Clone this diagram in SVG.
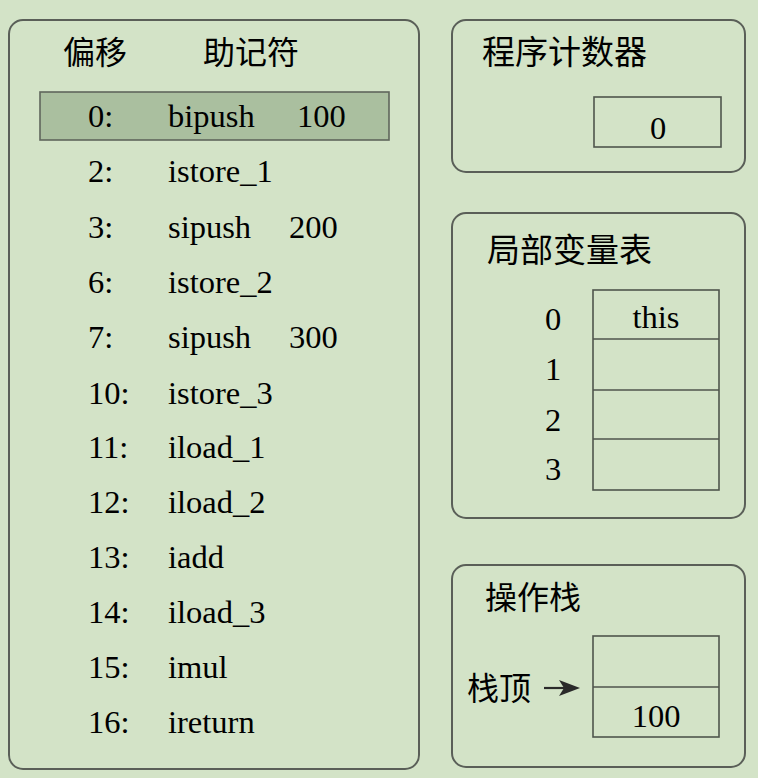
<svg xmlns="http://www.w3.org/2000/svg" width="758" height="778" viewBox="0 0 758 778">
<style>
.panel{fill:#d3e3c7;stroke:#5a5f58;stroke-width:2}
.cell{fill:none;stroke:#4f554d;stroke-width:1.6}
</style>
<rect width="758" height="778" fill="#d3e3c7"/>

<g id="code">
<rect class="panel" x="9" y="20" width="410" height="749" rx="14"/>
<text x="63" y="64" font-family="Liberation Serif, Noto Sans CJK SC, serif" font-size="32">偏移</text>
<text x="203" y="64" font-family="Liberation Serif, Noto Sans CJK SC, serif" font-size="32">助记符</text>
<rect x="40" y="92" width="349" height="48" fill="#aabf9f" stroke="#5f665c" stroke-width="1.6"/>
<text x="88" y="127" font-family="Liberation Serif, serif" font-size="32.5">0:</text><text x="168" y="127" font-family="Liberation Serif, serif" font-size="32.5">bipush</text><text x="297" y="127" font-family="Liberation Serif, serif" font-size="32.5">100</text>
<text x="88" y="182" font-family="Liberation Serif, serif" font-size="32.5">2:</text><text x="168" y="182" font-family="Liberation Serif, serif" font-size="32.5">istore_1</text>
<text x="88" y="238" font-family="Liberation Serif, serif" font-size="32.5">3:</text><text x="168" y="238" font-family="Liberation Serif, serif" font-size="32.5">sipush</text><text x="289" y="238" font-family="Liberation Serif, serif" font-size="32.5">200</text>
<text x="88" y="293" font-family="Liberation Serif, serif" font-size="32.5">6:</text><text x="168" y="293" font-family="Liberation Serif, serif" font-size="32.5">istore_2</text>
<text x="88" y="348" font-family="Liberation Serif, serif" font-size="32.5">7:</text><text x="168" y="348" font-family="Liberation Serif, serif" font-size="32.5">sipush</text><text x="289" y="348" font-family="Liberation Serif, serif" font-size="32.5">300</text>
<text x="88" y="404" font-family="Liberation Serif, serif" font-size="32.5">10:</text><text x="168" y="404" font-family="Liberation Serif, serif" font-size="32.5">istore_3</text>
<text x="88" y="458" font-family="Liberation Serif, serif" font-size="32.5">11:</text><text x="168" y="458" font-family="Liberation Serif, serif" font-size="32.5">iload_1</text>
<text x="88" y="513" font-family="Liberation Serif, serif" font-size="32.5">12:</text><text x="168" y="513" font-family="Liberation Serif, serif" font-size="32.5">iload_2</text>
<text x="88" y="568" font-family="Liberation Serif, serif" font-size="32.5">13:</text><text x="168" y="568" font-family="Liberation Serif, serif" font-size="32.5">iadd</text>
<text x="88" y="623" font-family="Liberation Serif, serif" font-size="32.5">14:</text><text x="168" y="623" font-family="Liberation Serif, serif" font-size="32.5">iload_3</text>
<text x="88" y="678" font-family="Liberation Serif, serif" font-size="32.5">15:</text><text x="168" y="678" font-family="Liberation Serif, serif" font-size="32.5">imul</text>
<text x="88" y="733" font-family="Liberation Serif, serif" font-size="32.5">16:</text><text x="168" y="733" font-family="Liberation Serif, serif" font-size="32.5">ireturn</text>
</g>

<g id="pc">
<rect class="panel" x="452" y="20" width="293" height="152" rx="14"/>
<text x="482" y="64" font-family="Liberation Serif, Noto Sans CJK SC, serif" font-size="33">程序计数器</text>
<rect class="cell" x="594" y="97" width="127" height="50"/>
<text x="658" y="139" text-anchor="middle" font-family="Liberation Serif, serif" font-size="32.5">0</text>
</g>

<g id="locals">
<rect class="panel" x="452" y="213" width="293" height="305" rx="14"/>
<text x="487" y="262" font-family="Liberation Serif, Noto Sans CJK SC, serif" font-size="33">局部变量表</text>
<rect class="cell" x="593" y="290" width="126" height="200"/>
<line class="cell" x1="593" y1="339" x2="719" y2="339"/>
<line class="cell" x1="593" y1="390" x2="719" y2="390"/>
<line class="cell" x1="593" y1="439" x2="719" y2="439"/>
<text x="656" y="328" text-anchor="middle" font-family="Liberation Serif, serif" font-size="32.5">this</text>
<text x="553" y="330" text-anchor="middle" font-family="Liberation Serif, serif" font-size="32.5">0</text>
<text x="553" y="380" text-anchor="middle" font-family="Liberation Serif, serif" font-size="32.5">1</text>
<text x="553" y="431" text-anchor="middle" font-family="Liberation Serif, serif" font-size="32.5">2</text>
<text x="553" y="480" text-anchor="middle" font-family="Liberation Serif, serif" font-size="32.5">3</text>
</g>

<g id="stack">
<rect class="panel" x="452" y="565" width="293" height="202" rx="14"/>
<text x="485" y="609" font-family="Liberation Serif, Noto Sans CJK SC, serif" font-size="32">操作栈</text>
<rect class="cell" x="593" y="636" width="126" height="101"/>
<line class="cell" x1="593" y1="687" x2="719" y2="687"/>
<text x="656" y="727" text-anchor="middle" font-family="Liberation Serif, serif" font-size="32.5">100</text>
<text x="467" y="700" font-family="Liberation Serif, Noto Sans CJK SC, serif" font-size="32">栈顶</text>
</g>

<g id="connectors">
<line x1="544" y1="688" x2="566" y2="688" stroke="#2a2a2a" stroke-width="2.2"/>
<path d="M559,680 L580,688 L559,696 L564,688 Z" fill="#2a2a2a"/>
</g>
</svg>
